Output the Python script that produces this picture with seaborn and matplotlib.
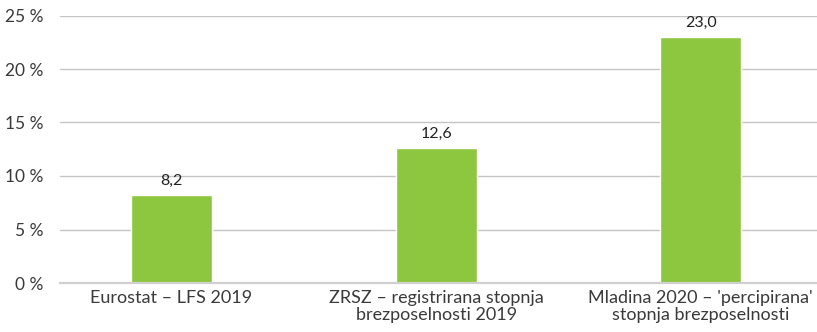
import matplotlib
matplotlib.use("Agg")
import matplotlib.pyplot as plt
import seaborn as sns
import pandas as pd

categories = [
    "Eurostat – LFS 2019",
    "ZRSZ – registrirana stopnja\nbrezposelnosti 2019",
    "Mladina 2020 – 'percipirana'\nstopnja brezposelnosti",
]
values = [8.2, 12.6, 23.0]
y_ticks = [0, 5, 10, 15, 20, 25]

df = pd.DataFrame({"kategorija": categories, "stopnja": values})

sns.set_theme(style="white")
plt.rcParams["font.family"] = ["Lato", "DejaVu Sans"]

fig = plt.figure(figsize=(8.17, 3.32), dpi=100)
ax = fig.add_axes([60 / 817, 49 / 332, 757 / 817, 267.5 / 332])

sns.barplot(data=df, x="kategorija", y="stopnja", color="#8dc63f",
            width=0.306, saturation=1, ax=ax, zorder=3)

ax.set_xlim(-0.4216, 2.440)
ax.set_ylim(0, 25)
ax.set_yticks(y_ticks)
ax.set_yticklabels([f"{t} %" for t in y_ticks])
ax.grid(axis="y", color="#c4c4c4", linewidth=1.0, zorder=0)
ax.set_xlabel("")
ax.set_ylabel("")

for side in ["left", "right", "top"]:
    ax.spines[side].set_visible(False)
ax.spines["bottom"].set_color("#d0d0d0")
ax.spines["bottom"].set_linewidth(1.6)
ax.spines["bottom"].set_zorder(4)

ax.tick_params(axis="y", length=0, pad=12, labelsize=12.5, labelcolor="#3a3a3a")
ax.tick_params(axis="x", length=0, pad=5, labelsize=13, labelcolor="#3a3a3a")
for lbl in ax.get_xticklabels():
    lbl.set_multialignment("center")
    lbl.set_linespacing(1.05)

for container in ax.containers:
    ax.bar_label(container, labels=[f"{v:.1f}".replace(".", ",") for v in values],
                 padding=5, fontsize=11.5, color="#222222")

fig.savefig("out.png", dpi=100)
